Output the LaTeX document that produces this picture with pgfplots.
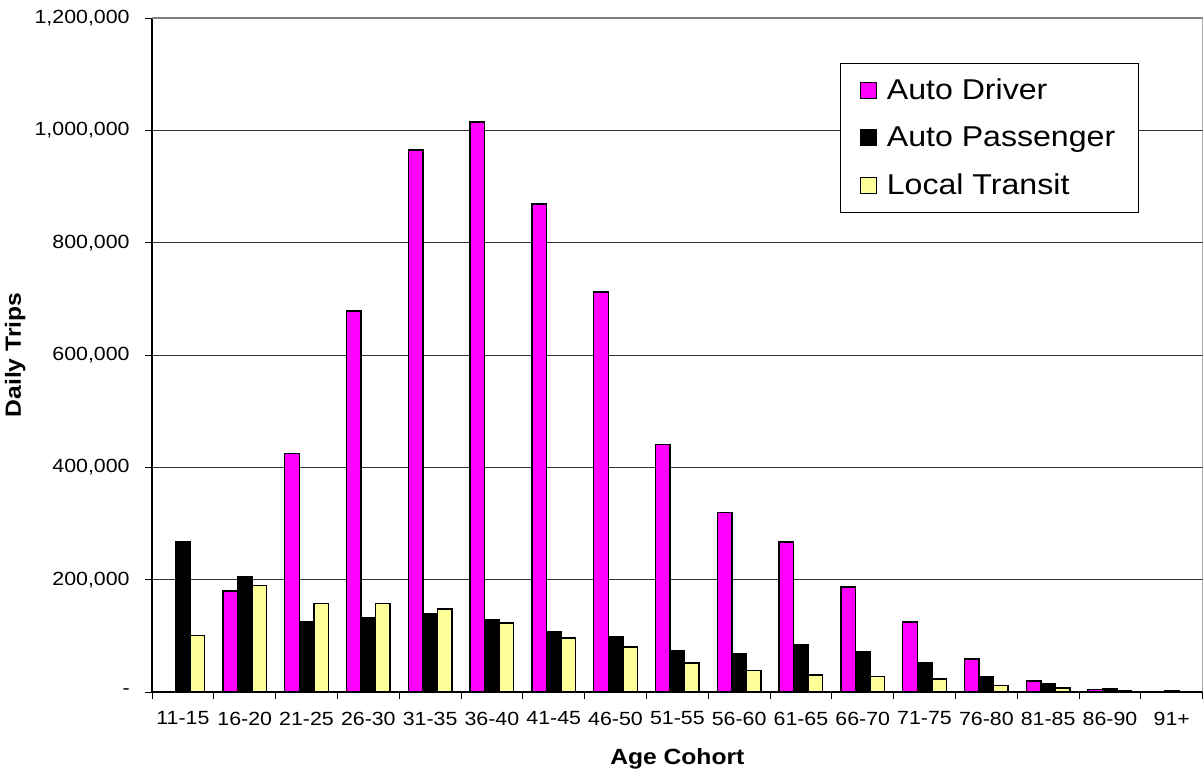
\documentclass[border=0pt]{standalone}
\usepackage{pgfplots}
\pgfplotsset{compat=1.18}
\usepackage{fontspec}
\setmainfont{Liberation Sans}[FakeStretch=1.12]
\definecolor{drv}{RGB}{255,0,255}
\definecolor{trn}{RGB}{255,255,153}
\begin{document}
\begin{tikzpicture}
\begin{axis}[
  at={(0,0)}, anchor=south west,
  scale only axis, width=788pt, height=505.5pt,
  ybar=0pt, bar width=10.9pt,
  xmin=-0.5, xmax=16.5, ymin=0, ymax=1200000,
  axis x line*=bottom, axis y line*=left, axis line style={-, black, line width=0.9pt},
  xtick={0,...,16},
  xticklabels={11-15,16-20,21-25,26-30,31-35,36-40,41-45,46-50,51-55,56-60,61-65,66-70,71-75,76-80,81-85,86-90,91+},
  major x tick style={draw=none},
  minor xtick={-0.5,0.5,...,16.5},
  minor tick length=5.25pt, major tick length=5.25pt,
  tick align=outside,
  tick style={black, line width=0.6pt},
  ytick={0,200000,400000,600000,800000,1000000,1200000},
  yticklabels={{-},{200,000},{400,000},{600,000},{800,000},{1,000,000},{1,200,000}},
  scaled y ticks=false,
  ymajorgrids, major grid style={black!80, line width=0.6pt},
  tick label style={font=\fontsize{14.3pt}{16pt}\selectfont},
  xticklabel style={yshift=-6pt},
  yticklabel style={xshift=-8pt},
  xlabel={\bfseries Age Cohort}, ylabel={\bfseries Daily Trips},
  label style={font=\fontsize{16.5pt}{18pt}\selectfont},
  xlabel style={yshift=-11pt},
  ylabel style={yshift=0pt},
  legend style={at={(0.6546,0.9332)}, anchor=north west, draw=black, line width=0.6pt,
    font=\fontsize{21.5pt}{24pt}\selectfont, row sep=15pt, inner xsep=15pt, inner ysep=9.5pt},
  legend cell align=left,
  legend image code/.code={\draw[#1, line width=0.9pt] (0pt,-6pt) rectangle (12pt,6pt); \path (17pt,0pt);},
  every axis plot/.append style={draw=black, line width=1.1pt},
]
\addplot[fill=drv] coordinates {(0,0) (1,180000) (2,425000) (3,678000) (4,965000) (5,1015000) (6,869000) (7,712000) (8,441000) (9,320000) (10,267000) (11,187000) (12,125000) (13,59000) (14,20000) (15,4000) (16,1000)};
\addplot[fill=black] coordinates {(0,267000) (1,205000) (2,126000) (3,133000) (4,139000) (5,128000) (6,107000) (7,98000) (8,73000) (9,69000) (10,84000) (11,71000) (12,53000) (13,27000) (14,14000) (15,6000) (16,2000)};
\addplot[fill=trn] coordinates {(0,101000) (1,190000) (2,158000) (3,158000) (4,148000) (5,123000) (6,96000) (7,80000) (8,52000) (9,38000) (10,30000) (11,28000) (12,23000) (13,12000) (14,7000) (15,3000) (16,1000)};
\legend{Auto Driver, Auto Passenger, Local Transit}
\draw[black!50, line width=1.5pt] (rel axis cs:0,1) -- (rel axis cs:1,1) -- (rel axis cs:1,0);
\end{axis}
\pgfresetboundingbox
\path (-114pt,-63pt) rectangle (789pt,519pt);
\end{tikzpicture}
\end{document}
